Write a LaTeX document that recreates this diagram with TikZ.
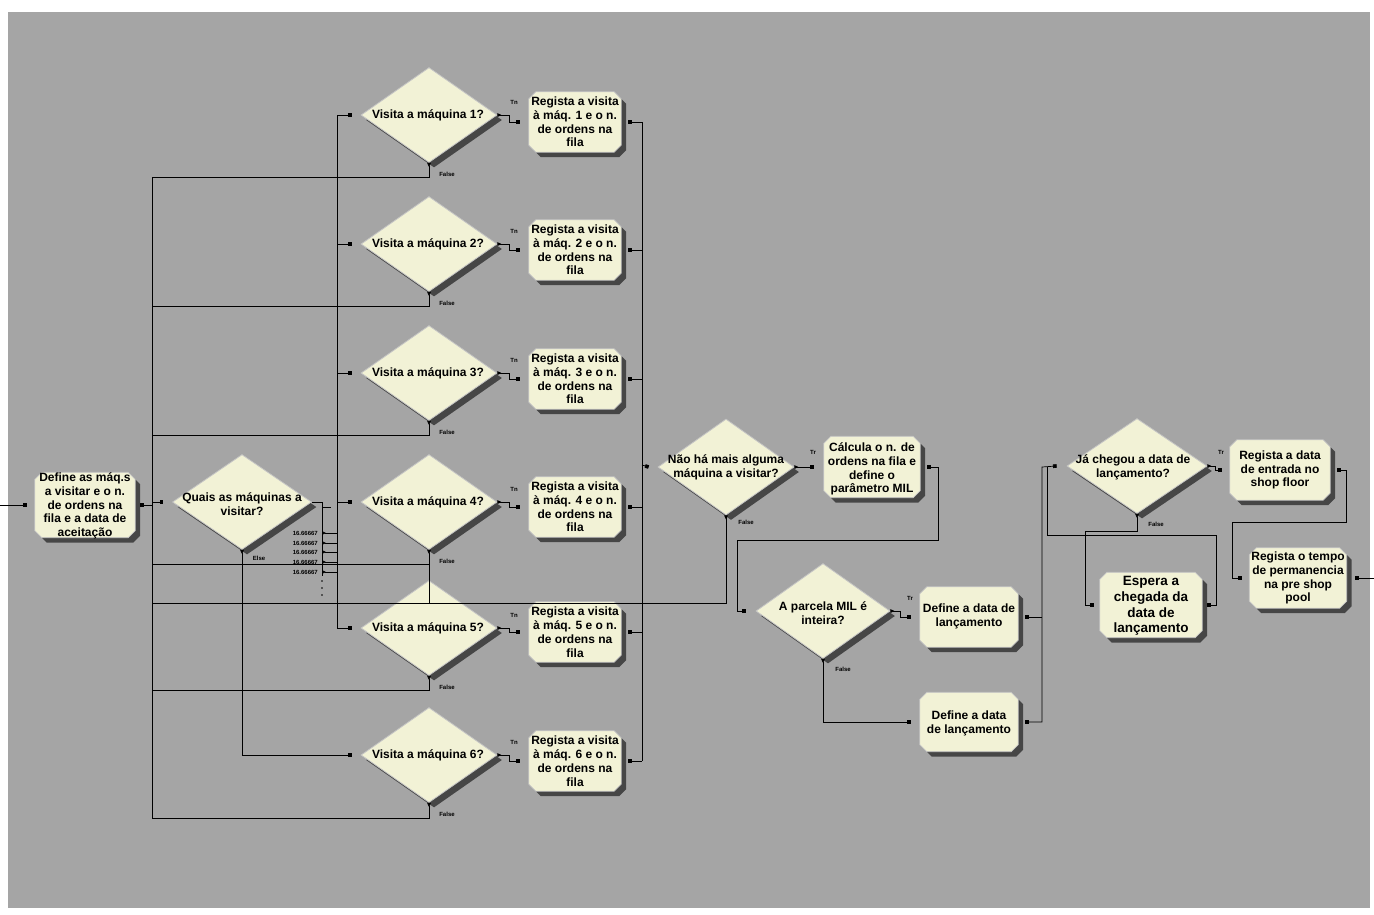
\documentclass[tikz,border=0pt]{standalone}
\usepackage{fontspec}
\setmainfont{Liberation Sans}
\usetikzlibrary{shapes.geometric,arrows.meta,shadows}
\definecolor{panel}{RGB}{165,165,165}
\definecolor{cream}{RGB}{242,242,214}
\definecolor{shade}{RGB}{70,70,70}
\definecolor{edge}{RGB}{196,196,196}
% chamfered process box drawn around a named frame node
\newcommand\chambox[1]{%
  \path[fill=shade, transform canvas={shift={(5pt,-5pt)}}]
    ([xshift=7pt]#1.north west) -- ([xshift=-7pt]#1.north east) -- ([yshift=-7pt]#1.north east)
    -- ([yshift=7pt]#1.south east) -- ([xshift=-7pt]#1.south east) -- ([xshift=7pt]#1.south west)
    -- ([yshift=7pt]#1.south west) -- ([yshift=-7pt]#1.north west) -- cycle;
  \path[fill=cream, draw=edge, line width=0.8pt]
    ([xshift=7pt]#1.north west) -- ([xshift=-7pt]#1.north east) -- ([yshift=-7pt]#1.north east)
    -- ([yshift=7pt]#1.south east) -- ([xshift=-7pt]#1.south east) -- ([xshift=7pt]#1.south west)
    -- ([yshift=7pt]#1.south west) -- ([yshift=-7pt]#1.north west) -- cycle;}
\begin{document}
\begin{tikzpicture}[x=1pt,y=-1pt,
  txt/.style={font=\fontsize{12}{13.8}\selectfont\bfseries, align=center, inner sep=0pt},
  bigtxt/.style={font=\fontsize{13.5}{15.8}\selectfont\bfseries, align=center, inner sep=0pt},
  tiny/.style={font=\fontsize{6}{7}\selectfont\bfseries, inner sep=0pt},
  sz/.style 2 args={minimum width=#1pt, minimum height=#2pt},
  frame/.style={rectangle, inner sep=0pt, draw=none},
  dia/.style={diamond, inner sep=0pt, fill=cream, draw=edge, line width=0.8pt,
    general shadow={fill=shade, shadow xshift=5pt, shadow yshift=-5pt}},
  wire/.style={draw=black, line width=0.7pt},
  flow/.style={wire, -{Square[length=3.6pt,width=3.6pt]}},
  outflow/.style={wire, {Square[length=3.6pt,width=3.6pt]}-{Square[length=3.6pt,width=3.6pt]}},
  outfree/.style={wire, {Square[length=3.6pt,width=3.6pt]}-},
  branch/.style={wire, {Triangle[reversed,length=4pt,width=3.6pt]}-{Square[length=3.6pt,width=3.6pt]}},
  branchfree/.style={wire, {Triangle[reversed,length=4pt,width=3.6pt]}-},
]
% page and grey panel
\useasboundingbox (0,0) rectangle (1374,914);
\fill[white] (0,0) rectangle (1374,914);
\fill[panel] (8,12) rectangle (1370,908);

% ---------- frames of the process boxes ----------
\node[frame, sz={100}{65}] (D) at (85,505) {};
\foreach \k/\r in {1/122, 2/250, 3/379, 4/507, 5/632, 6/761}{
  \node[frame, sz={92}{60}] (R\k) at (575,\r) {};
}
\node[frame, sz={96}{61}] (C) at (872,467) {};
\node[frame, sz={98}{60}] (E1) at (969,617) {};
\node[frame, sz={98}{59}] (E2) at (969,722) {};
\node[frame, sz={100}{60}] (S1) at (1280,470) {};
\node[frame, sz={97}{60}] (S2) at (1298,578) {};
\node[frame, sz={102}{65}] (W) at (1151,605) {};
\foreach \b in {D,R1,R2,R3,R4,R5,R6,C,E1,E2,S1,S2,W}{\chambox{\b}}

% ---------- decisions ----------
\node[dia, sz={139}{95}] (Q) at (242,502) {};
\foreach \k/\y in {1/115, 2/244, 3/373, 4/502, 5/628, 6/755}{
  \node[dia, sz={136}{95}] (V\k) at (429,\y) {};
}
\node[dia, sz={136}{96}] (N) at (726,467) {};
\node[dia, sz={134}{95}] (P) at (823,611) {};
\node[dia, sz={140}{95}] (J) at (1137,466) {};

% ---------- texts ----------
\node[txt] (Dt) at (85,506) {Define as máq.s\\a visitar e o n.\\de ordens na\\fila e a data de\\aceitação};
\node[txt] (Qt) at (242,504) {Quais as máquinas a\\visitar?};
\foreach \k/\y/\r in {1/115/122, 2/244/250, 3/373/379, 4/502/507, 5/628/632, 6/755/761}{
  \node[txt] (V\k t) at (428,\y) {Visita a máquina \k?};
  \node[txt] (R\k t) at (575,\r) {Regista a visita\\à máq. {\k} e o n.\\de ordens na\\fila};
  \node[tiny] (T\k) at (514,\y-13) {Tn};
  \node[tiny] (F\k) at (447,\y+59) {False};
}
\node[txt] (Nt) at (726,467) {Não há mais alguma\\máquina a visitar?};
\node[txt] (Ct) at (872,469) {Cálcula o n. de\\ordens na fila e\\define o\\parâmetro MIL};
\node[txt] (Pt) at (823,613) {A parcela MIL é\\inteira?};
\node[txt] (E1t) at (969,616) {Define a data de\\lançamento};
\node[txt] (E2t) at (969,723) {Define a data\\de lançamento};
\node[txt] (Jt) at (1133,467) {Já chegou a data de\\lançamento?};
\node[txt] (S1t) at (1280,470) {Regista a data\\de entrada no\\shop floor};
\node[txt] (S2t) at (1298,578) {Regista o tempo\\de permanencia\\na pre shop\\pool};
\node[bigtxt] (Wt) at (1151,606) {Espera a\\chegada da\\data de\\lançamento};

% small labels
\node[tiny] (Nl) at (813,452) {Tr};
\node[tiny] (Pl) at (910,598) {Tr};
\node[tiny] (Jl) at (1221,452) {Tr};
\node[tiny] (Nf) at (746,522) {False};
\node[tiny] (Pf) at (843,669) {False};
\node[tiny] (Jf) at (1156,524) {False};
\node[tiny] (El) at (259,558) {Else};
\foreach \i/\yb in {1/533, 2/543, 3/552, 4/562, 5/572}{
  \node[tiny, anchor=east] (p\i) at (318,\yb) {16.66667};
}

% ---------- connectors ----------
\coordinate (entry) at (0,505);
\coordinate (exit) at (1374,578);
\draw[flow] (entry) -- ([xshift=-8pt]D.west);
\draw[outflow] ([xshift=5pt]D.east) -- (152,505) |- ([xshift=-9pt]Q.west);

% chance branches of the selection
\draw[wire] (Q.east) -| (322,576);
\draw[wire] (322,507) -- (331,507);
\foreach \yb in {533,543,552,562,572}{
  \draw[branchfree] (322,\yb) -- (337,\yb);
}
\foreach \yd in {581,588,595}{ \fill (322,\yd) circle (0.9); }
\draw[wire] (337,115) -- (337,628);
\foreach \k in {1,...,5}{
  \draw[flow] (V\k.west -| 337,0) -- ([xshift=-9pt]V\k.west);
}
\draw[branch] (Q.south) |- ([xshift=-9pt]V6.west);

% true branches and registration outputs
\foreach \k in {1,...,6}{
  \draw[branch] (V\k.east) -- ++(12,0) |- ([xshift=-9pt]R\k.west);
  \draw[outfree] ([xshift=7pt]R\k.east) -- (R\k.east -| 642,0);
}
\draw[wire] (642,122) -- (642,761);
\draw[flow] (642,465) -- ([xshift=-9pt]N.west);

% false branches back to the selection
\draw[wire] (152,177) -- (152,818);
\foreach \k/\yf in {1/177, 2/306, 3/435, 5/690, 6/818}{
  \draw[branchfree] (V\k.south) |- (152,\yf);
}
\draw[branchfree] (V4.south) -- (V4.south |- 0,603);
\draw[wire] (V4.south |- 0,564) -- (152,564);
\draw[branchfree] (N.south) |- (152,603);

% MIL evaluation
\draw[branch] (N.east) -- ([xshift=-10pt]C.west);
\draw[outflow] ([xshift=7pt]C.east) -- (938,467) -- (938,540) -- (737,540) |- ([xshift=-10pt]P.west);
\draw[branch] (P.east) -- ++(10,0) |- ([xshift=-9pt]E1.west);
\draw[branch] (P.south) |- ([xshift=-9pt]E2.west);
\draw[outfree] ([xshift=7pt]E1.east) -- (1042,617);
\draw[outflow] ([xshift=7pt]E2.east) -| (1042,467) -- ([xshift=-10pt]J.west);

% release date check
\draw[branch] (J.east) -- ++(8,0) |- ([xshift=-8pt]S1.west);
\draw[branch] (J.south) -- (1137,531) -- (1085,531) |- ([xshift=-6pt]W.west);
\draw[outfree] ([xshift=5pt]W.east) -- (1216,605) -- (1216,535) -- (1047,535) -- (1047,467);
\draw[outflow] ([xshift=7pt]S1.east) -- (1346,470) -- (1346,522) -- (1232,522) |- ([xshift=-8pt]S2.west);
\draw[outfree] ([xshift=8pt]S2.east) -- (exit);
\end{tikzpicture}
\end{document}
